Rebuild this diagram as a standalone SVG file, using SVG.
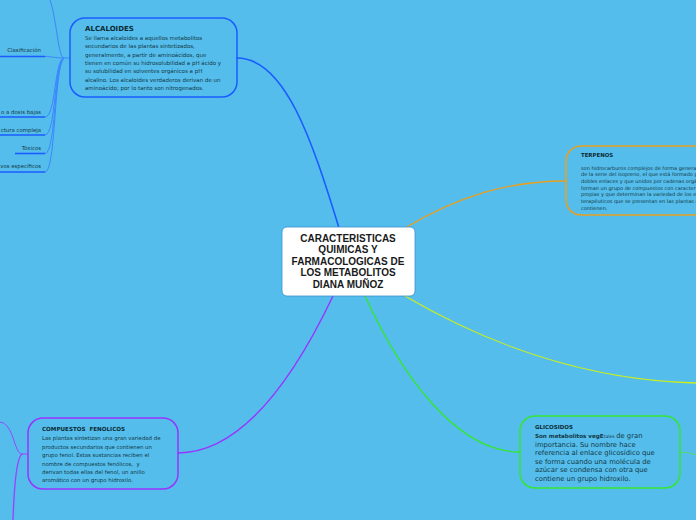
<svg xmlns="http://www.w3.org/2000/svg" width="696" height="520" viewBox="0 0 696 520">
<style>
.t{font-family:"DejaVu Sans",Verdana,sans-serif;fill:#123846}
.h{font-weight:bold;fill:#0c2a34}
.c{fill:none;stroke-linecap:round}
.box{fill:none;stroke-width:1.5}
.lbl{font-family:"DejaVu Sans",Verdana,sans-serif;font-size:5.4px;fill:#123846;text-anchor:end}
</style>
<rect width="696" height="520" fill="#55bdeb"/>
<g id="connectors">
<path class="c" d="M339,228 C312,140 285,58 237,58" stroke="#1a5cff" stroke-width="1.6"/>
<path class="c" d="M405,228 C460,195 510,181 566,181" stroke="#e8a020" stroke-width="1.3"/>
<path class="c" d="M405,296 C480,340 580,380 696,383" stroke="#c8ee20" stroke-width="1.3"/>
<path class="c" d="M365,296 C400,372 455,452 520,452" stroke="#33e633" stroke-width="1.4"/>
<path class="c" d="M680,452 C688,452 692,454 696,455" stroke="#55dd66" stroke-width="1"/>
<path class="c" d="M333,296 C292,382 240,453 178,453" stroke="#9933ff" stroke-width="1.4"/>
<path class="c" d="M28,454 L22,454 C14,454 14,423 0,422" stroke="#9a44ff" stroke-width="1"/>
<path class="c" d="M22,454 C16,458 14,490 13,520" stroke="#9a44ff" stroke-width="1.4"/>
<g stroke="#3a86ff" stroke-width="1" fill="none">
<path d="M70,58 L64,58 C58,58 57,20 50,0"/>
<path d="M64,58 C55,58 52,56.5 45,56.5"/>
<path d="M64,58 C54,60 56,117 45,117"/>
<path d="M64,58 C54,62 56,135 45,135"/>
<path d="M64,58 C54,64 56,153.5 45,153.5"/>
<path d="M64,58 C54,66 56,172 45,172"/>
</g>
<g stroke="#1a5cff" stroke-width="1.6">
<line x1="0" y1="56.5" x2="45" y2="56.5"/>
<line x1="0" y1="117" x2="45" y2="117"/>
<line x1="0" y1="135" x2="45" y2="135"/>
<line x1="15" y1="153.5" x2="45" y2="153.5"/>
<line x1="0" y1="172" x2="45" y2="172"/>
</g>
</g>
<g id="labels-left">
<text class="lbl" x="41" y="52">Clasificación</text>
<text class="lbl" x="41" y="114">o a dosis bajas</text>
<text class="lbl" x="41" y="132">ctura compleja</text>
<text class="lbl" x="41" y="150">Tóxicos</text>
<text class="lbl" x="41" y="168">vos específicos</text>
</g>
<g id="central">
<rect x="282" y="227" width="133" height="69" rx="5" fill="#ffffff" stroke="#3a90d0" stroke-width="0.8"/>
<g font-family="Liberation Sans,Arial,sans-serif" font-weight="bold" font-size="10" fill="#1a1a1a" text-anchor="middle">
<text x="348" y="242">CARACTERISTICAS</text>
<text x="348" y="253">QUIMICAS Y</text>
<text x="348" y="265">FARMACOLOGICAS DE</text>
<text x="348" y="276">LOS METABOLITOS</text>
<text x="348" y="288">DIANA MUÑOZ</text>
</g>
</g>
<g id="alcaloides">
<rect class="box" x="70" y="18" width="167" height="79" rx="15" stroke="#1a5cff"/>
<text class="t h" x="85" y="31" font-size="7">ALCALOIDES</text>
<g class="t" font-size="5.5">
<text x="85" y="40">Se llama alcaloides a aquellos metabolitos</text>
<text x="85" y="48.3">secundarios de las plantas sintetizados,</text>
<text x="85" y="56.6">generalmente, a partir de aminoácidos, que</text>
<text x="85" y="64.9">tienen en común su hidrosolubilidad a pH ácido y</text>
<text x="85" y="73.2">su solubilidad en solventes orgánicos a pH</text>
<text x="85" y="81.5">alcalino. Los alcaloides verdaderos derivan de un</text>
<text x="85" y="89.8">aminoácido; por lo tanto son nitrogenados.</text>
</g>
</g>
<g id="terpenos">
<rect class="box" x="566" y="146" width="160" height="69" rx="15" stroke="#e8a020"/>
<text class="t h" x="581" y="157" font-size="5.4">TERPENOS</text>
<g class="t" font-size="5">
<text x="581" y="169.5">son hidrocarburos complejos de forma general</text>
<text x="581" y="176.2">de la serie del isopreno, el que está formado p</text>
<text x="581" y="182.9">dobles enlaces y que unidos por cadenas orgá</text>
<text x="581" y="189.6">forman un grupo de compuestos con caracter</text>
<text x="581" y="196.3">propias y que determinan la variedad de los e</text>
<text x="581" y="203">terapéuticos que se presentan en las plantas q</text>
<text x="581" y="209.7">contienen.</text>
</g>
</g>
<g id="glicosidos">
<rect class="box" x="520" y="416" width="160" height="72" rx="15" stroke="#33e633"/>
<text class="t h" x="535" y="428.5" font-size="5.5">GLICOSIDOS</text>
<g class="t" font-size="6.8">
<text x="535" y="438"><tspan font-weight="bold" font-size="5.6">Son metabolitos vegE</tspan><tspan font-size="4.6">tales </tspan>de gran</text>
<text x="535" y="446.5">importancia. Su nombre hace</text>
<text x="535" y="455">referencia al enlace glicosídico que</text>
<text x="535" y="463.5">se forma cuando una molécula de</text>
<text x="535" y="472">azúcar se condensa con otra que</text>
<text x="535" y="480.5">contiene un grupo hidroxilo.</text>
</g>
</g>
<g id="fenolicos">
<rect class="box" x="28" y="418" width="150" height="71" rx="15" stroke="#9933ff"/>
<text class="t h" x="42" y="431" font-size="5.6" xml:space="preserve">COMPUESTOS  FENOLICOS</text>
<g class="t" font-size="5.4">
<text x="42" y="440">Las plantas sintetizan una gran variedad de</text>
<text x="42" y="448.5">productos secundarios que contienen un</text>
<text x="42" y="457">grupo fenol. Estas sustancias reciben el</text>
<text x="42" y="465.5" xml:space="preserve">nombre de compuestos fenólicos,  y</text>
<text x="42" y="474">derivan todas ellas del fenol, un anillo</text>
<text x="42" y="482">aromático con un grupo hidroxilo.</text>
</g>
</g>
</svg>
